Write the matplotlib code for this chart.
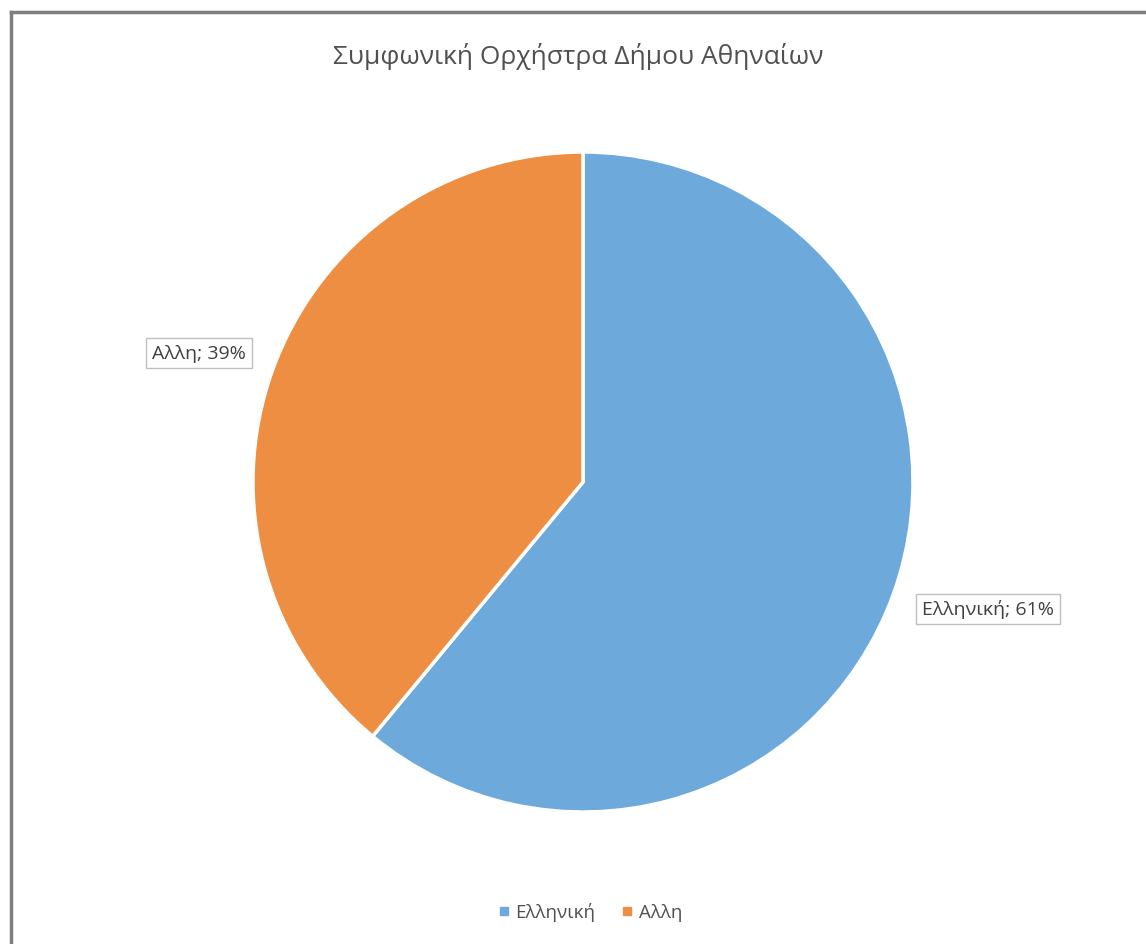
import matplotlib.pyplot as plt
from matplotlib.lines import Line2D

# data
categories = ['Ελληνική', 'Αλλη']
shares = [61, 39]
colors = ['#6DAADB', '#EE8E42']
title = 'Συμφωνική Ορχήστρα Δήμου Αθηναίων'

plt.rcParams['font.family'] = ['Open Sans', 'DejaVu Sans']

W, H = 1146, 945
fig = plt.figure(figsize=(W / 100, H / 100), dpi=100)
ax = fig.add_axes([0, 0, 1, 1])

wedges, _ = ax.pie(shares, colors=colors, startangle=90, counterclock=False,
                   center=(583, H - 483), radius=330, frame=True,
                   wedgeprops=dict(edgecolor='white', linewidth=2.5))
ax.set_xlim(0, W)
ax.set_ylim(0, H)
ax.axis('off')

# data labels in boxes
label_pos = [(988, H - 610), (199, H - 354)]
for cat, val, (x, y) in zip(categories, shares, label_pos):
    ax.text(x, y, f'{cat}; {val}%', ha='center', va='center', fontsize=14,
            color='#404040',
            bbox=dict(boxstyle='square,pad=0.3', fc='white', ec='#BFBFBF', lw=1))

ax.text(578, H - 57, title, ha='center', va='center', fontsize=19,
        color='#505050')

# chart frame (left and top edges visible)
ax.plot([11, 11], [-5, H - 13], color='#7F7F7F', lw=2.5, solid_capstyle='projecting')
ax.plot([11, W + 5], [H - 13, H - 13], color='#7F7F7F', lw=2.5, solid_capstyle='projecting')

handles = [Line2D([], [], marker='s', ls='', color=c, markersize=6) for c in colors]
fig.legend(handles, categories, loc='center', bbox_to_anchor=(0.515, 1 - 913 / H),
           ncol=2, frameon=False, fontsize=13.5, handlelength=0.6, handletextpad=0.3,
           columnspacing=1.4, labelcolor='#505050')

plt.savefig('out.png', dpi=100)
